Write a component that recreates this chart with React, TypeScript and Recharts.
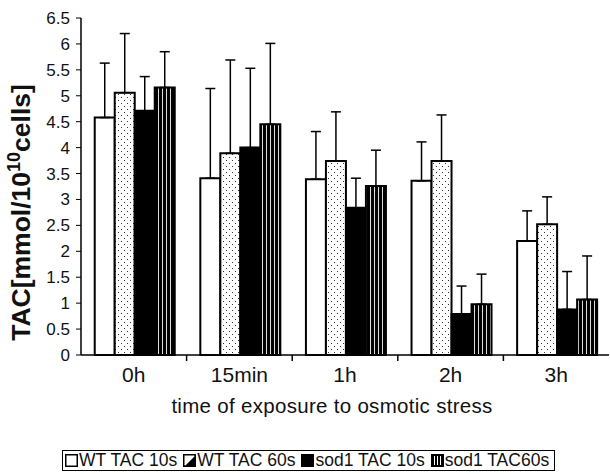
import React from 'react';
import { BarChart, Bar, XAxis, YAxis, ErrorBar, Label } from 'recharts';

const categories = ['0h', '15min', '1h', '2h', '3h'];
const wt10 = [4.58, 3.41, 3.39, 3.36, 2.2];
const wt10Err = [1.05, 1.73, 0.92, 0.75, 0.58];
const wt60 = [5.06, 3.89, 3.74, 3.74, 2.52];
const wt60Err = [1.14, 1.8, 0.95, 0.89, 0.53];
const sod10 = [4.71, 4.0, 2.84, 0.79, 0.88];
const sod10Err = [0.66, 1.53, 0.57, 0.54, 0.73];
const sod60 = [5.16, 4.45, 3.26, 0.98, 1.07];
const sod60Err = [0.69, 1.56, 0.69, 0.58, 0.84];
const yTicks = [0, 0.5, 1, 1.5, 2, 2.5, 3, 3.5, 4, 4.5, 5, 5.5, 6, 6.5];
const legendLabels = ['WT TAC 10s', 'WT TAC 60s', 'sod1 TAC 10s', 'sod1 TAC60s'];

const data = categories.map((c, i) => ({
  cat: c,
  wt10: wt10[i],
  wt10Err: [0, wt10Err[i]],
  wt60: wt60[i],
  wt60Err: [0, wt60Err[i]],
  sod10: sod10[i],
  sod10Err: [0, sod10Err[i]],
  sod60: sod60[i],
  sod60Err: [0, sod60Err[i]],
}));

const FONT = 'Arial, "Liberation Sans", Helvetica, sans-serif';

const XTick = (props: any) => {
  const { x, y, payload, index } = props;
  const off = payload.offset || 0;
  return (
    <g>
      <text x={x} y={y + 27} textAnchor="middle" fontSize={21} fill="#111" fontFamily={FONT}>
        {payload.value}
      </text>
      {index < categories.length - 1 && (
        <line x1={x + off} x2={x + off} y1={y} y2={y + 6} stroke="#000" strokeWidth={1.5} />
      )}
    </g>
  );
};

const YLabel = (props: any) => {
  const { viewBox } = props;
  const x = viewBox.x + 30;
  const y = viewBox.y + viewBox.height / 2 + 26;
  return (
    <text
      x={x}
      y={y}
      transform={`rotate(-90, ${x}, ${y})`}
      textAnchor="middle"
      fontSize={26.5}
      fontWeight="bold"
      fill="#111"
      fontFamily={FONT}
    >
      <tspan>TAC[mmol/10</tspan>
      <tspan dy={-10} fontSize={18}>10</tspan>
      <tspan dy={10}>cells]</tspan>
    </text>
  );
};

const XLabel = (props: any) => {
  const { viewBox } = props;
  const x = viewBox.x + viewBox.width / 2 - 13;
  const y = viewBox.y + 58;
  return (
    <text x={x} y={y} textAnchor="middle" fontSize={20.5} letterSpacing={0.3} fill="#111" fontFamily={FONT}>
      time of exposure to osmotic stress
    </text>
  );
};

const LegendIcon = ({ kind }: { kind: number }) => (
  <svg width={13} height={13} style={{ marginRight: 1, flex: 'none' }}>
    {kind === 0 && <rect x={0.75} y={0.75} width={11.5} height={11.5} fill="#fff" stroke="#000" strokeWidth={1.5} />}
    {kind === 1 && (
      <g>
        <rect x={0.75} y={0.75} width={11.5} height={11.5} fill="#fff" stroke="#000" strokeWidth={1.5} />
        <polygon points="12,1 12,12 1,12" fill="#000" />
        <line x1={2} y1={11} x2={11} y2={2} stroke="#fff" strokeWidth={1.2} />
      </g>
    )}
    {kind === 2 && <rect x={0} y={0} width={13} height={13} fill="#000" />}
    {kind === 3 && (
      <g>
        <rect x={0} y={0} width={13} height={13} fill="#000" />
        <line x1={3.5} x2={3.5} y1={2} y2={11} stroke="#fff" strokeWidth={1} />
        <line x1={6.5} x2={6.5} y1={2} y2={11} stroke="#fff" strokeWidth={1} />
        <line x1={9.5} x2={9.5} y1={2} y2={11} stroke="#fff" strokeWidth={1} />
      </g>
    )}
  </svg>
);

export default function App() {
  return (
    <div style={{ position: 'absolute', left: 0, top: 0, width: 610, height: 474, background: '#fff' }}>
      <svg width={0} height={0} style={{ position: 'absolute' }}>
        <defs>
          <pattern id="dots" width={6} height={6} patternUnits="userSpaceOnUse">
            <rect width={6} height={6} fill="#fff" />
            <rect x={1} y={1} width={1} height={1} fill="#333" />
            <rect x={4} y={4} width={1} height={1} fill="#333" />
          </pattern>
          <pattern id="stripes" width={4} height={10} patternUnits="userSpaceOnUse">
            <rect width={4} height={10} fill="#000" />
            <rect x={2} y={0} width={1} height={10} fill="#ddd" />
          </pattern>
        </defs>
      </svg>
      <BarChart
        width={610}
        height={474}
        data={data}
        margin={{ top: 18, right: 1, left: 0, bottom: 59 }}
        barCategoryGap="13%"
        barGap={0}
      >
        <XAxis
          dataKey="cat"
          height={60}
          axisLine={{ stroke: '#000', strokeWidth: 1.5 }}
          tickLine={false}
          tickSize={0}
          tickMargin={0}
          interval={0}
          tick={<XTick />}
        >
          <Label content={<XLabel />} />
        </XAxis>
        <XAxis
          xAxisId="top"
          orientation="top"
          type="number"
          domain={[0, 1]}
          height={0}
          tick={false}
          tickLine={false}
          axisLine={{ stroke: '#9a9a9a', strokeWidth: 1.5 }}
        />
        <YAxis
          width={81}
          domain={[0, 6.5]}
          ticks={yTicks}
          interval={0}
          tickSize={5}
          tickMargin={6}
          axisLine={{ stroke: '#000', strokeWidth: 1.5 }}
          tickLine={{ stroke: '#000', strokeWidth: 1 }}
          tick={{ fontSize: 17, fill: '#111', fontFamily: FONT }}
        >
          <Label content={<YLabel />} />
        </YAxis>
        <YAxis
          yAxisId="right"
          orientation="right"
          width={0}
          tick={false}
          tickLine={false}
          axisLine={{ stroke: '#c8c8c8', strokeWidth: 1 }}
        />
        <Bar dataKey="wt10" fill="#fff" stroke="#000" strokeWidth={2} isAnimationActive={false}>
          <ErrorBar dataKey="wt10Err" width={5} stroke="#000" strokeWidth={1.5} direction="y" />
        </Bar>
        <Bar dataKey="wt60" fill="url(#dots)" stroke="#000" strokeWidth={2} isAnimationActive={false}>
          <ErrorBar dataKey="wt60Err" width={5} stroke="#000" strokeWidth={1.5} direction="y" />
        </Bar>
        <Bar dataKey="sod10" fill="#000" stroke="#000" strokeWidth={2} isAnimationActive={false}>
          <ErrorBar dataKey="sod10Err" width={5} stroke="#000" strokeWidth={1.5} direction="y" />
        </Bar>
        <Bar dataKey="sod60" fill="url(#stripes)" stroke="#000" strokeWidth={2} isAnimationActive={false}>
          <ErrorBar dataKey="sod60Err" width={5} stroke="#000" strokeWidth={1.5} direction="y" />
        </Bar>
      </BarChart>
      <div
        style={{
          position: 'absolute',
          left: 62,
          top: 450,
          width: 489,
          height: 19,
          border: '1px solid #000',
          display: 'flex',
          alignItems: 'center',
          fontFamily: FONT,
          fontSize: 17.5,
          color: '#111',
          paddingLeft: 2,
          whiteSpace: 'nowrap',
          boxSizing: 'content-box',
        }}
      >
        {legendLabels.map((l, i) => (
          <span key={l} style={{ display: 'flex', alignItems: 'center', marginRight: 6 }}>
            <LegendIcon kind={i} />
            {l}
          </span>
        ))}
      </div>
    </div>
  );
}
